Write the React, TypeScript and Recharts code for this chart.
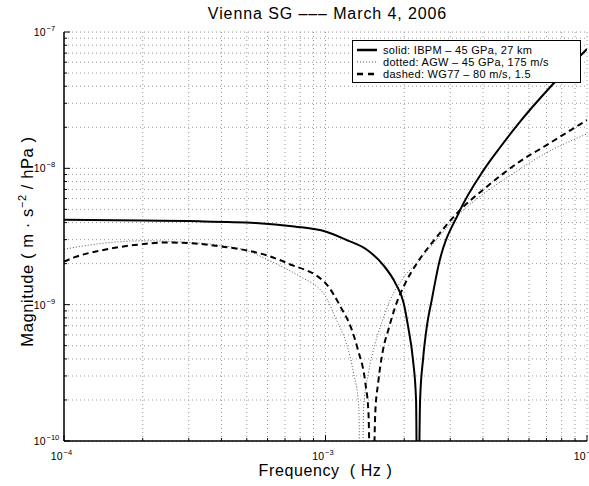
import { LineChart, Line, XAxis, YAxis, CartesianGrid } from 'recharts';

const FONT = '"Liberation Sans", Arial, Helvetica, sans-serif';

// log ticks: decades plus the 2..9 minor steps (grid + inward tick marks)
const X_TICKS = [
  1e-4, 2e-4, 3e-4, 4e-4, 5e-4, 6e-4, 7e-4, 8e-4, 9e-4,
  1e-3, 2e-3, 3e-3, 4e-3, 5e-3, 6e-3, 7e-3, 8e-3, 9e-3, 1e-2,
];
const X_MAJOR = [1e-4, 1e-3, 1e-2];
const X_EXP = ['−4', '−3', '−2'];

const Y_TICKS = [
  1e-10, 2e-10, 3e-10, 4e-10, 5e-10, 6e-10, 7e-10, 8e-10, 9e-10,
  1e-9, 2e-9, 3e-9, 4e-9, 5e-9, 6e-9, 7e-9, 8e-9, 9e-9,
  1e-8, 2e-8, 3e-8, 4e-8, 5e-8, 6e-8, 7e-8, 8e-8, 9e-8, 1e-7,
];
const Y_MAJOR = [1e-10, 1e-9, 1e-8, 1e-7];
const Y_EXP = ['−10', '−9', '−8', '−7'];

// solid: IBPM
const IBPM_F = [
  1e-4, 2e-4, 3e-4, 5.4e-4, 7.6e-4, 1e-3, 1.2e-3, 1.44e-3, 1.66e-3, 1.85e-3,
  1.99e-3, 2.07e-3, 2.16e-3, 2.22e-3, 2.25e-3, 2.3e-3, 2.36e-3, 2.44e-3, 2.55e-3,
  2.7e-3, 3.23e-3, 4.03e-3, 4.67e-3, 5.48e-3, 7.24e-3, 1e-2,
];
const IBPM_M = [
  4.2e-9, 4.15e-9, 4.1e-9, 3.98e-9, 3.75e-9, 3.44e-9, 2.99e-9, 2.53e-9, 1.96e-9, 1.44e-9,
  1.03e-9, 6.9e-10, 3.95e-10, 2.0e-10, 1e-11, 2.0e-10, 3.95e-10, 6.9e-10, 1.09e-9,
  1.91e-9, 4.7e-9, 9.75e-9, 1.44e-8, 2.14e-8, 3.95e-8, 7.5e-8,
];

// dotted: AGW
const AGW_F = [
  1e-4, 1.43e-4, 2e-4, 3e-4, 4e-4, 5e-4, 6e-4, 7.2e-4, 8e-4, 1e-3,
  1.1e-3, 1.2e-3, 1.28e-3, 1.34e-3, 1.37e-3, 1.4e-3, 1.46e-3, 1.55e-3, 1.64e-3,
  1.77e-3, 1.96e-3, 2.3e-3, 2.7e-3, 3.2e-3, 4.15e-3, 5.1e-3, 7e-3, 1e-2,
];
const AGW_M = [
  2.55e-9, 2.83e-9, 2.94e-9, 2.86e-9, 2.72e-9, 2.49e-9, 2.14e-9, 1.8e-9, 1.61e-9, 1.15e-9,
  7.76e-10, 5.24e-10, 3.16e-10, 1.8e-10, 1e-11, 1.8e-10, 3.16e-10, 5.24e-10, 7.35e-10,
  1.09e-9, 1.52e-9, 2.15e-9, 3.1e-9, 4.5e-9, 6.8e-9, 8.9e-9, 1.3e-8, 1.79e-8,
];

// dashed: WG77
const WG77_F = [
  1e-4, 1.1e-4, 1.43e-4, 2e-4, 2.43e-4, 3e-4, 4e-4, 5e-4, 6e-4, 7.2e-4,
  1e-3, 1.14e-3, 1.26e-3, 1.33e-3, 1.42e-3, 1.46e-3, 1.5e-3, 1.55e-3, 1.59e-3,
  1.66e-3, 1.74e-3, 1.85e-3, 2.02e-3, 2.24e-3, 2.67e-3, 3.23e-3, 4.15e-3, 5.41e-3,
  7e-3, 1e-2,
];
const WG77_M = [
  2.07e-9, 2.23e-9, 2.53e-9, 2.78e-9, 2.86e-9, 2.83e-9, 2.67e-9, 2.5e-9, 2.29e-9, 2.0e-9,
  1.44e-9, 9.7e-10, 6.56e-10, 4.68e-10, 2.67e-10, 1.61e-10, 1e-11, 1.61e-10, 2.67e-10,
  4.68e-10, 6.56e-10, 9.7e-10, 1.44e-9, 2.02e-9, 3.16e-9, 4.83e-9, 7.36e-9, 1.09e-8,
  1.48e-8, 2.26e-8,
];

const rows = (f: number[], m: number[]) => f.map((x, i) => ({ f: x, m: m[i] }));

const SERIES = [
  { key: 'agw', data: rows(AGW_F, AGW_M), color: '#555', width: 1, dash: '1 2', label: 'dotted: AGW – 45 GPa, 175 m/s' },
  { key: 'wg77', data: rows(WG77_F, WG77_M), color: '#000', width: 2, dash: '6 4', label: 'dashed: WG77 – 80 m/s, 1.5' },
  { key: 'ibpm', data: rows(IBPM_F, IBPM_M), color: '#000', width: 2, dash: undefined, label: 'solid: IBPM – 45 GPa, 27 km' },
];
const LEGEND_ORDER = ['ibpm', 'agw', 'wg77'];

const majorIndex = (list: number[], v: number) =>
  list.findIndex((t) => Math.abs(t - v) / t < 1e-6);

// MATLAB-style power label: "10" right-aligned at ax, exponent raised after it
function Pow({ ax, by, exp }: { ax: number; by: number; exp: string }) {
  return (
    <g fontFamily={FONT} fill="#000">
      <text x={ax} y={by} textAnchor="end" fontSize={10.5} letterSpacing={0.3}>10</text>
      <text x={ax + 0.5} y={by - 5} textAnchor="start" fontSize={7.5}>{exp}</text>
    </g>
  );
}

function XTick(props: any) {
  const { x, y, payload, top } = props;
  const i = majorIndex(X_MAJOR, payload.value);
  const len = i >= 0 ? 6 : 3;
  return (
    <g>
      <line x1={x} y1={y} x2={x} y2={top ? y + len : y - len} stroke="#000" />
      {!top && i >= 0 && <Pow ax={x - 1} by={y + 19} exp={X_EXP[i]} />}
    </g>
  );
}

function YTick(props: any) {
  const { x, y, payload, right } = props;
  const i = majorIndex(Y_MAJOR, payload.value);
  const len = i >= 0 ? 6 : 3;
  return (
    <g>
      <line x1={x} y1={y} x2={right ? x - len : x + len} y2={y} stroke="#000" />
      {!right && i >= 0 && <Pow ax={x - 18} by={y + 4} exp={Y_EXP[i]} />}
    </g>
  );
}

function YLabel(props: any) {
  const { viewBox } = props;
  const cx = viewBox.x + 33;
  const cy = viewBox.y + viewBox.height / 2 + 5;
  return (
    <text
      x={cx}
      y={cy}
      transform={`rotate(-90 ${cx} ${cy})`}
      textAnchor="middle"
      fontSize={16.5}
      letterSpacing={0.6}
      fontFamily={FONT}
      fill="#000"
      style={{ whiteSpace: 'pre' }}
    >
      Magnitude ( m · s<tspan dy={-7} fontSize={11}>−2</tspan>
      <tspan dy={7}> / hPa )</tspan>
    </text>
  );
}

function XLabel(props: any) {
  const { viewBox } = props;
  return (
    <text
      x={viewBox.x + viewBox.width / 2}
      y={viewBox.y + 34.5}
      textAnchor="middle"
      fontSize={16}
      letterSpacing={0.6}
      fontFamily={FONT}
      fill="#000"
      style={{ whiteSpace: 'pre' }}
    >
      {'Frequency  ( Hz )'}
    </text>
  );
}

function LegendBox() {
  return (
    <div
      style={{
        position: 'absolute',
        left: 352,
        top: 40,
        width: 229,
        height: 43,
        border: '1px solid #000',
        background: '#fff',
        fontFamily: FONT,
        fontSize: 11,
        letterSpacing: 0.3,
        color: '#000',
        paddingTop: 2.5,
        boxSizing: 'border-box',
      }}
    >
      {LEGEND_ORDER.map((k) => {
        const s = SERIES.find((e) => e.key === k)!;
        return (
          <div key={k} style={{ display: 'flex', alignItems: 'center', height: 12.3, whiteSpace: 'nowrap' }}>
            <svg width={30} height={8} style={{ flex: 'none' }}>
              <line
                x1={4}
                y1={4}
                x2={24}
                y2={4}
                stroke={s.color}
                strokeWidth={s.width + (s.key === 'agw' ? 0 : 0.5)}
                strokeDasharray={s.key === 'wg77' ? '6 5' : s.dash}
              />
            </svg>
            <span>{s.label}</span>
          </div>
        );
      })}
    </div>
  );
}

export default function App() {
  return (
    <div style={{ position: 'absolute', left: 0, top: 0, width: 589, height: 486, background: '#fff' }}>
      <div
        style={{
          position: 'absolute',
          left: 0,
          width: 655,
          top: 5,
          textAlign: 'center',
          fontFamily: FONT,
          fontSize: 16,
          letterSpacing: 0.9,
          color: '#000',
          whiteSpace: 'pre',
        }}
      >
        Vienna SG ––– March 4, 2006
      </div>
      <LineChart width={589} height={486} margin={{ top: 32, right: 2, bottom: 0, left: 0 }}>
        <CartesianGrid stroke="#999" strokeDasharray="1 3" />
        <XAxis
          dataKey="f"
          type="number"
          scale="log"
          domain={[1e-4, 1e-2]}
          ticks={X_TICKS}
          interval={0}
          allowDataOverflow
          height={45}
          tickSize={0}
          tickMargin={0}
          tickLine={false}
          tick={<XTick />}
          axisLine={{ stroke: '#000', strokeWidth: 1.5 }}
          label={{ content: <XLabel /> }}
        />
        <XAxis
          xAxisId="top"
          orientation="top"
          dataKey="f"
          type="number"
          scale="log"
          domain={[1e-4, 1e-2]}
          ticks={X_TICKS}
          interval={0}
          allowDataOverflow
          height={0}
          tickSize={0}
          tickMargin={0}
          tickLine={false}
          tick={<XTick top />}
          axisLine={{ stroke: '#000', strokeWidth: 1.5 }}
        />
        <YAxis
          dataKey="m"
          type="number"
          scale="log"
          domain={[1e-10, 1e-7]}
          ticks={Y_TICKS}
          interval={0}
          allowDataOverflow
          width={64}
          tickSize={0}
          tickMargin={0}
          tickLine={false}
          tick={<YTick />}
          axisLine={{ stroke: '#000', strokeWidth: 1.5 }}
          label={{ content: <YLabel /> }}
        />
        <YAxis
          yAxisId="right"
          orientation="right"
          type="number"
          scale="log"
          domain={[1e-10, 1e-7]}
          ticks={Y_TICKS}
          interval={0}
          allowDataOverflow
          width={0}
          tickSize={0}
          tickMargin={0}
          tickLine={false}
          tick={<YTick right />}
          axisLine={{ stroke: '#000', strokeWidth: 1.5 }}
        />
        {SERIES.map((s) => (
          <Line
            key={s.key}
            data={s.data}
            dataKey="m"
            type="monotone"
            stroke={s.color}
            strokeWidth={s.width}
            strokeDasharray={s.dash}
            dot={false}
            activeDot={false}
            isAnimationActive={false}
          />
        ))}
      </LineChart>
      <LegendBox />
    </div>
  );
}
